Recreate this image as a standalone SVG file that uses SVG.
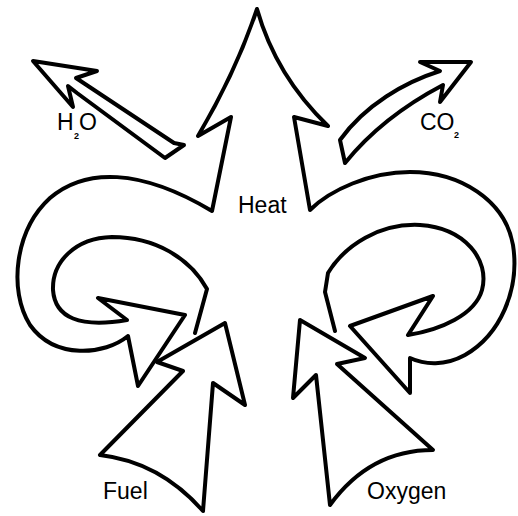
<svg xmlns="http://www.w3.org/2000/svg" width="518" height="516" viewBox="0 0 518 516">
<style>
.ln{fill:none;stroke:#000;stroke-width:4;stroke-linejoin:round;stroke-linecap:round}
.t{font-family:"Liberation Sans",Arial,sans-serif;font-size:23px;fill:#000}
.s{font-family:"Liberation Sans",Arial,sans-serif;font-size:9px;fill:#000;font-weight:bold}
</style>
<rect width="518" height="516" fill="#fff"/>
<g id="heat-cycle">
<path class="ln" d="M195,333 L207,289 C190,258 155,237 112,237 C75,238 52,262 53,290 C55,318 80,328 127,320 L98,298 L185,315 L138,386 L128,336 C105,355 55,360 30,325 C8,290 15,230 50,198 C85,168 140,168 212,211 L231,117 L198,136 Q236,72 257,9 Q276,76 328,126 L294,117 L310,210 C330,190 370,172 410,172 C460,172 505,200 513,245 C520,290 500,335 465,355 C445,366 425,365 410,358 L410,393 L350,326 L433,296 L408,335 C440,330 475,315 482,290 C490,260 465,228 420,225 C380,223 345,245 328,273 L325,292 L335,331"/>
<text class="t" x="238" y="213">Heat</text>
</g>
<g id="h2o">
<path class="ln" d="M33,61 L97,71 L76,78 L174,143 L184,145 L165,158 L77,93 L68,86 L73,107 Z"/>
<text class="t" x="57" y="130" font-size="21">H</text>
<text class="s" x="74" y="139">2</text>
<text class="t" x="79" y="130" font-size="21">O</text>
</g>
<g id="co2">
<path class="ln" d="M471,62 L420,62 L440,71 C405,82 365,105 340,140 L345,163 C370,132 405,105 443,85 L440,102 Z"/>
<text class="t" x="420" y="130" font-size="21">CO</text>
<text class="s" x="454" y="138">2</text>
</g>
<g id="fuel">
<path class="ln" d="M203,511 L213,383 L245,405 L225,323 L157,362 L183,371 L100,455 Q160,462 203,511"/>
<text class="t" x="103" y="499">Fuel</text>
</g>
<g id="oxygen">
<path class="ln" d="M330,505 L316,375 L293,398 L300,320 L365,358 L337,364 L433,450 Q370,450 330,505"/>
<text class="t" x="367" y="499">Oxygen</text>
</g>
</svg>
